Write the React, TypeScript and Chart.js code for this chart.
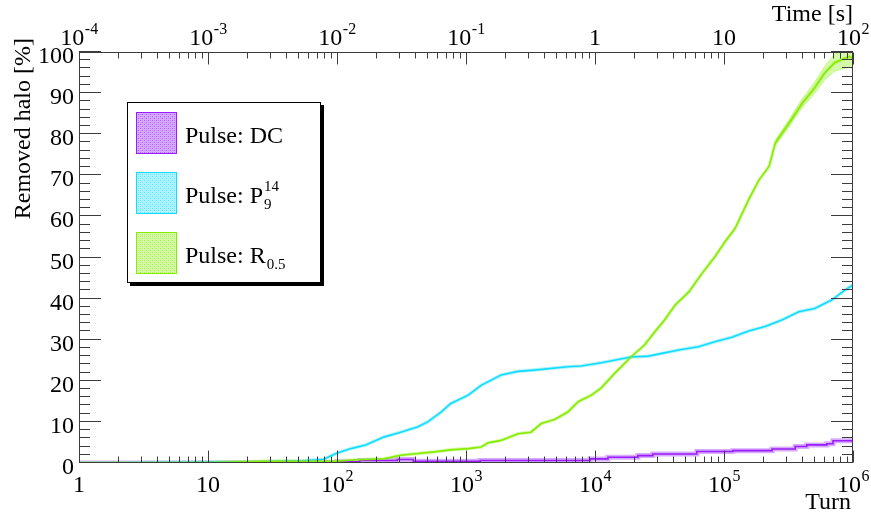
import React, { useEffect, useRef } from 'react';
import { Chart, registerables } from 'chart.js';

Chart.register(...registerables);

const FONT = '"Liberation Serif", "Times New Roman", serif';

// Axis ticks and labels
const turnTicks = [1, 10, 100, 1000, 10000, 100000, 1000000];
const turnTickLabels = ['1', '10', '10^2', '10^3', '10^4', '10^5', '10^6'];
const timeTicks = [1e-4, 1e-3, 1e-2, 1e-1, 1, 10, 100];
const timeTickLabels = ['10^-4', '10^-3', '10^-2', '10^-1', '1', '10', '10^2'];
const removedTicks = [0, 10, 20, 30, 40, 50, 60, 70, 80, 90, 100];
const removedTickLabels = ['0', '10', '20', '30', '40', '50', '60', '70', '80', '90', '100'];

// Series: Pulse DC
const dcTurns = [1, 40, 100, 150, 293, 390, 1290, 9150, 12600, 21500, 28100, 61500, 117000, 236000, 356000, 438000, 627000, 700000, 1000000];
const dcRemoved = [0, 0.1, 0.3, 0.6, 0.85, 0.4, 0.6, 1.0, 1.4, 1.8, 2.2, 2.8, 3.0, 3.4, 4.0, 4.4, 4.7, 5.4, 5.4];

// Series: Pulse P_9^14
const pTurns = [1, 9, 26, 52, 79, 98, 128, 167, 230, 312, 424, 505, 640, 763, 1040, 1310, 1870, 2530, 3380, 6150, 7800, 11200, 19000, 25900, 34600, 46800, 63300, 85000, 115000, 155000, 208000, 281000, 380000, 505000, 688000, 869000, 1000000];
const pRemoved = [0, 0.2, 0.3, 0.5, 0.9, 2.3, 3.5, 4.4, 6.3, 7.5, 8.8, 10.0, 12.4, 14.5, 16.5, 18.9, 21.4, 22.3, 22.6, 23.4, 23.6, 24.4, 25.8, 26.0, 26.8, 27.6, 28.3, 29.5, 30.6, 32.1, 33.2, 34.8, 36.8, 37.6, 39.7, 42.1, 43.3];

// Series: Pulse R_0.5
const rTurns = [1, 10, 28, 60, 94, 144, 230, 312, 424, 565, 763, 1040, 1310, 1480, 1870, 2530, 3190, 3830, 4860, 6150, 7400, 9380, 11200, 14200, 19000, 24200, 29000, 34600, 41700, 53600, 67800, 85000, 102000, 122000, 155000, 187000, 224000, 250000, 321000, 405000, 505000, 603000, 721000, 929000, 1000000];
const rRemoved = [0, 0.1, 0.4, 0.4, 0.4, 0.8, 1.0, 1.9, 2.3, 2.7, 3.2, 3.5, 3.9, 4.9, 5.5, 7.1, 7.5, 9.6, 10.6, 12.4, 14.9, 16.5, 18.3, 21.8, 25.8, 28.7, 31.9, 34.8, 38.4, 41.7, 46.2, 50.2, 53.9, 57.1, 64.0, 68.9, 72.2, 77.9, 82.8, 87.6, 91.3, 94.9, 97.4, 98.9, 98.5];

// Error band of R_0.5 at the end
const rBandTurns = [250000, 321000, 405000, 505000, 603000, 721000, 929000, 1000000];
const rBandHigh = [78.6, 83.7, 88.7, 92.7, 96.6, 99.5, 101.5, 101.5];
const rBandLow = [77.2, 81.9, 86.5, 89.9, 93.2, 95.3, 96.3, 95.8];

const seriesNames = ['Pulse: DC', 'Pulse: P', 'Pulse: R'];
const seriesSup = ['', '14', ''];
const seriesSub = ['', '9', '0.5'];
const seriesColors = ['#9a1cff', '#14dcff', '#86ec00'];
const bandColors = ['rgba(176,90,255,0.5)', 'rgba(60,225,255,0.4)', 'rgba(150,240,40,0.4)'];

const axisTitleX = 'Turn';
const axisTitleTop = 'Time [s]';
const axisTitleY = 'Removed halo [%]';

function toPts(xs: number[], ys: number[]) {
  return xs.map((x, i) => ({ x, y: ys[i] }));
}

function makePattern(color: string, band: string) {
  const c = document.createElement('canvas');
  c.width = 4;
  c.height = 4;
  const g = c.getContext('2d')!;
  g.fillStyle = band;
  g.fillRect(0, 0, 4, 4);
  g.fillStyle = color;
  g.globalAlpha = 0.55;
  g.fillRect(0, 0, 1, 1);
  g.fillRect(2, 2, 1, 1);
  g.globalAlpha = 0.3;
  g.fillRect(2, 0, 1, 1);
  g.fillRect(0, 2, 1, 1);
  return g.createPattern(c, 'repeat')!;
}

const rootPlugin = {
  id: 'rootAxes',
  afterDatasetsDraw(chart: any) {
    const { ctx, chartArea: a, scales } = chart;
    const xs = scales.x;
    const xt = scales.x2;
    const ys = scales.y;
    const L = Math.round(a.left);
    const R = Math.round(a.right);
    const T = Math.round(a.top);
    const B = Math.round(a.bottom);
    ctx.save();
    ctx.strokeStyle = '#3c3c3c';
    ctx.lineWidth = 1;
    const line = (x1: number, y1: number, x2: number, y2: number) => {
      ctx.beginPath();
      ctx.moveTo(x1, y1);
      ctx.lineTo(x2, y2);
      ctx.stroke();
    };
    // frame
    ctx.strokeRect(L + 0.5, T + 0.5, R - L - 1, B - T - 1);

    const logTicks = (scale: any, ticks: number[], y: number, dir: number) => {
      ticks.forEach((t, i) => {
        const px = Math.round(scale.getPixelForValue(t)) + 0.5;
        line(px, y, px, y + dir * 12);
        if (i < ticks.length - 1) {
          for (let k = 2; k <= 9; k++) {
            const p = Math.round(scale.getPixelForValue(t * k)) + 0.5;
            line(p, y, p, y + dir * 6);
          }
        }
      });
    };
    logTicks(xs, turnTicks, B - 0.5, -1);
    logTicks(xt, timeTicks, T + 0.5, 1);

    for (let v = 0; v <= 100; v += 2) {
      const py = Math.round(ys.getPixelForValue(v)) - 0.5;
      const len = v % 10 === 0 ? 22 : 11;
      line(L, py, L + len, py);
      line(R, py, R - len, py);
    }

    // labels
    ctx.fillStyle = '#000';
    ctx.textBaseline = 'alphabetic';
    const drawPow = (label: string, cx: number, baseY: number) => {
      const [b, e] = label.split('^');
      ctx.font = `24px ${FONT}`;
      const wb = ctx.measureText(b).width;
      let we = 0;
      if (e) {
        ctx.font = `16px ${FONT}`;
        we = ctx.measureText(e).width;
      }
      const x0 = cx - (wb + we) / 2;
      ctx.textAlign = 'left';
      ctx.font = `24px ${FONT}`;
      ctx.fillText(b, x0, baseY);
      if (e) {
        ctx.font = `16px ${FONT}`;
        ctx.fillText(e, x0 + wb + 0.5, baseY - 11);
      }
    };
    turnTicks.forEach((t, i) => drawPow(turnTickLabels[i], xs.getPixelForValue(t), 492));
    timeTicks.forEach((t, i) => drawPow(timeTickLabels[i], xt.getPixelForValue(t), 45));

    ctx.font = `24px ${FONT}`;
    ctx.textAlign = 'right';
    removedTicks.forEach((v, i) => {
      ctx.fillText(removedTickLabels[i], 74, ys.getPixelForValue(v) + 11);
    });

    // axis titles
    ctx.textAlign = 'right';
    ctx.fillText(axisTitleTop, 853, 21);
    ctx.fillText(axisTitleX, 851, 509);
    ctx.save();
    ctx.translate(30, 38);
    ctx.rotate(-Math.PI / 2);
    ctx.textAlign = 'right';
    ctx.fillText(axisTitleY, 0, 0);
    ctx.restore();

    // legend
    const bx = 127, by = 102, bw = 194, bh = 181;
    ctx.fillStyle = '#000';
    ctx.fillRect(bx + 3, by + 3, bw, bh);
    ctx.fillStyle = '#fff';
    ctx.fillRect(bx, by, bw, bh);
    ctx.strokeStyle = '#000';
    ctx.strokeRect(bx + 0.5, by + 0.5, bw - 1, bh - 1);
    seriesNames.forEach((name, i) => {
      const sy = 112 + i * 60;
      ctx.fillStyle = makePattern(seriesColors[i], bandColors[i]);
      ctx.fillRect(136, sy, 41, 42);
      ctx.strokeStyle = seriesColors[i];
      ctx.strokeRect(136.5, sy + 0.5, 40, 41);
      ctx.fillStyle = '#000';
      ctx.textAlign = 'left';
      ctx.font = `24px ${FONT}`;
      const base = sy + 31;
      ctx.fillText(name, 185, base);
      const w = ctx.measureText(name).width;
      ctx.font = `15px ${FONT}`;
      if (seriesSup[i]) ctx.fillText(seriesSup[i], 185 + w + 1, base - 12);
      if (seriesSub[i]) ctx.fillText(seriesSub[i], 185 + w + 1, base + 6);
    });
    ctx.restore();
  },
};

export default function App() {
  const ref = useRef<HTMLCanvasElement | null>(null);
  useEffect(() => {
    const canvas = ref.current!;
    const mainLine = (xs: number[], ys: number[], i: number, order: number, stepped: any = false) => ({
      data: toPts(xs, ys),
      borderColor: seriesColors[i],
      borderWidth: 1.6,
      pointRadius: 0,
      tension: 0,
      stepped,
      fill: false,
      order,
      xAxisID: 'x',
      yAxisID: 'y',
    });
    const bandLine = (xs: number[], ys: number[], i: number, order: number, w: number, stepped: any = false) => ({
      data: toPts(xs, ys),
      borderColor: bandColors[i],
      borderWidth: w,
      pointRadius: 0,
      tension: 0,
      stepped,
      fill: false,
      order,
      xAxisID: 'x',
      yAxisID: 'y',
    });
    const chart = new Chart(canvas, {
      type: 'line',
      data: {
        datasets: [
          mainLine(rTurns, rRemoved, 2, 0),
          mainLine(pTurns, pRemoved, 1, 1),
          mainLine(dcTurns, dcRemoved, 0, 2, 'before'),
          bandLine(rTurns, rRemoved, 2, 5, 3.5),
          bandLine(pTurns, pRemoved, 1, 6, 3.5),
          bandLine(dcTurns, dcRemoved, 0, 7, 5, 'before'),
          {
            data: toPts(rBandTurns, rBandHigh),
            borderColor: bandColors[2],
            borderWidth: 1,
            pointRadius: 0,
            fill: '+1',
            backgroundColor: bandColors[2],
            order: 8,
            xAxisID: 'x',
            yAxisID: 'y',
          },
          {
            data: toPts(rBandTurns, rBandLow),
            borderColor: bandColors[2],
            borderWidth: 1,
            pointRadius: 0,
            fill: false,
            order: 9,
            xAxisID: 'x',
            yAxisID: 'y',
          },
        ] as any,
      },
      options: {
        animation: false,
        responsive: false,
        maintainAspectRatio: false,
        layout: { padding: { left: 79, right: 18, top: 52, bottom: 52 } },
        plugins: { legend: { display: false }, tooltip: { enabled: false } },
        events: [],
        scales: {
          x: { type: 'logarithmic', min: 1, max: 1000000, display: false },
          x2: { type: 'logarithmic', min: 1e-4, max: 100, display: false, position: 'top' },
          y: { type: 'linear', min: 0, max: 100, display: false },
        },
      } as any,
      plugins: [rootPlugin],
    });
    return () => chart.destroy();
  }, []);
  return (
    <div style={{ position: 'absolute', left: 0, top: 0, width: 871, height: 515, background: '#fff' }}>
      <canvas ref={ref} width={871} height={515} style={{ display: 'block' }} />
    </div>
  );
}
